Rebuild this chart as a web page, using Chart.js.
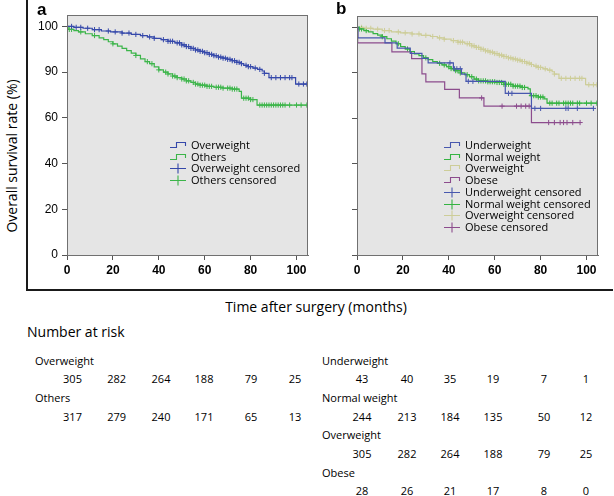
<!DOCTYPE html>
<html><head><meta charset="utf-8">
<script src="https://cdn.jsdelivr.net/npm/chart.js@4.4.0/dist/chart.umd.min.js"></script>
<style>
html,body{margin:0;padding:0;background:#fff;}
body{width:614px;height:496px;overflow:hidden;position:relative;font-family:"Open Sans",sans-serif;color:#000;}
.abs{position:absolute;white-space:nowrap;}
canvas{position:absolute;}
</style></head><body>
<canvas id="ca" width="285" height="290" style="left:28px;top:0px;"></canvas>
<canvas id="cb" width="292" height="290" style="left:313px;top:0px;"></canvas>
<script>
// ---------------- DATA ----------------
const yTickValues = [0, 20, 40, 60, 80, 100];
const yTickLabels = ['0', '20', '40', '60', '90', '100'];
const riskTimes = [0, 20, 40, 60, 80, 100];

// Panel a: Overweight (also panel b Overweight)
const owTimes = [0, 3, 7, 11, 15, 19, 24, 28, 32, 35, 38, 41, 44, 47, 50, 52, 54, 56, 58, 60, 62, 64, 66, 68, 70, 72, 74, 76, 77, 79, 81, 83, 85, 86, 88, 99.6];
const owSurv  = [100, 99.6, 99.2, 98.6, 98.0, 97.6, 97.1, 96.5, 96.0, 95.4, 94.8, 94.2, 93.5, 92.8, 91.9, 91.2, 90.4, 89.7, 89.1, 88.5, 87.8, 87.2, 86.6, 86.1, 85.6, 85.0, 84.3, 83.7, 83.0, 82.4, 81.8, 81.2, 80.5, 79.5, 77.6, 74.8];
const owCensor = [2, 4, 6, 9, 12, 14, 18, 21, 24, 27, 30, 33, 36, 38, 42, 44, 45, 46, 48, 49, 50, 51, 52, 53, 54, 55, 56, 57, 58, 59, 60, 61, 62, 63, 64, 65, 66, 67, 68, 69, 70, 71, 72, 73, 74, 75, 76, 78, 79, 80, 82, 84, 86, 89, 91, 93, 95, 97, 98, 101, 103, 104.5];

// Panel a: Others
const othTimes = [0, 0.5, 3, 5, 8, 11, 14, 16, 18, 20, 22, 24, 26, 28, 30, 32, 34, 36, 38, 40, 42, 44, 46, 48, 50, 52, 54, 56, 58, 61, 64, 68, 72, 75, 76, 80, 82.8];
const othSurv  = [100, 98.7, 98.2, 97.6, 96.8, 96.0, 95.0, 94.2, 93.3, 92.4, 91.4, 90.4, 89.4, 88.3, 87.3, 85.8, 84.6, 83.7, 82.3, 81.0, 80.0, 79.2, 78.3, 77.6, 77.0, 76.2, 75.5, 74.8, 74.3, 73.8, 73.4, 73.0, 72.6, 71.6, 68.6, 68.0, 65.6];
const othCensor = [1, 2, 6, 12, 20, 30, 35, 37, 40, 43, 44, 46, 47, 48, 50, 51, 52, 53, 55, 56, 57, 58, 59, 60, 61, 62, 63, 65, 66, 67, 68, 70, 71, 72, 73, 74, 77, 78, 79, 80, 81, 84, 85, 86, 87, 88, 89, 90, 91, 92, 93, 94, 95, 97, 100, 102, 104.5];

// Panel b: Underweight
const uwTimes = [0, 0.4, 12.2, 17.5, 23.2, 28.3, 31, 42, 45.5, 47.5, 64.6, 76];
const uwSurv  = [100, 95.4, 93.2, 90.9, 88.6, 86.4, 84.4, 81.8, 79.5, 76.3, 71.0, 64.4];
const uwCensor = [40.5, 42.5, 43.5, 45, 48.5, 50.5, 66, 67.5, 77.5, 80, 91, 92, 96, 103];

// Panel b: Normal weight
const nwTimes = [0, 1, 3, 5, 7, 9, 11, 13, 15, 17, 19, 21, 23, 25, 27, 29, 31, 33, 35, 37, 39, 41, 43, 45, 47, 49, 51, 53, 57, 61, 64, 68, 72, 74.5, 75.5, 79, 81.5, 82.8];
const nwSurv  = [100, 99.3, 98.6, 98.0, 97.3, 96.6, 95.9, 95.0, 94.0, 92.8, 91.6, 90.5, 89.4, 88.4, 87.6, 86.6, 85.8, 85.0, 84.2, 83.5, 82.7, 81.9, 81.0, 80.0, 79.2, 78.3, 77.3, 76.5, 76.1, 75.8, 75.0, 74.2, 73.6, 73.0, 70.0, 69.4, 68.6, 66.7];
const nwCensor = [1, 2, 4, 11, 18, 22, 30, 36, 38, 40, 41, 42, 43, 44, 45, 48, 50, 52, 53, 54, 55, 56, 57, 58, 59, 60, 61, 62, 63, 64, 65, 66, 67, 68, 69, 70, 71, 72, 73, 76, 77, 78, 79, 80, 81, 84, 85, 87, 88, 90, 91, 92, 93, 94, 96, 97, 100, 102, 104.5];

// Panel b: Obese
const obTimes = [0, 0.3, 15.2, 23.8, 28.3, 30, 38.2, 44.6, 55.3, 76];
const obSurv  = [100, 93.2, 89.2, 86.3, 79.6, 76.1, 72.8, 69.0, 65.4, 58.2];
const obCensor = [54.3, 63.2, 69.5, 71.5, 73.5, 75, 83.5, 86, 88.5, 90, 91.5, 94, 97.2];

// Numbers at risk
const riskOverweight = [305, 282, 264, 188, 79, 25];
const riskOthers = [317, 279, 240, 171, 65, 13];
const riskUnderweight = [43, 40, 35, 19, 7, 1];
const riskNormal = [244, 213, 184, 135, 50, 12];
const riskObese = [28, 26, 21, 17, 8, 0];

// ---------------- STYLE ----------------
const C = {
  blueA: '#3548aa', greenA: '#3cb54a',
  uw: '#4858ae', nw: '#35b342', ow: '#cdcd98', ob: '#8c4c8d'
};

function survAt(T, S, t) {
  let v = S[0];
  for (let i = 0; i < T.length; i++) { if (T[i] <= t) v = S[i]; }
  return v;
}
function curve(T, S, Cn, color, w) {
  const pts = T.map((t, i) => ({x: t, y: S[i]}));
  const end = Math.max(T[T.length - 1], ...Cn);
  pts.push({x: end, y: S[S.length - 1]});
  return {type: 'line', data: pts, stepped: true, borderColor: color, borderWidth: w || 1.2,
          pointRadius: 0, fill: false, tension: 0};
}
function cens(T, S, Cn, color) {
  return {type: 'line', data: Cn.map(t => ({x: t, y: survAt(T, S, t)})), showLine: false,
          pointStyle: 'cross', pointRadius: 2.6, pointBorderWidth: 1, borderColor: color,
          pointBorderColor: color, backgroundColor: color};
}

const bgPlugin = {
  id: 'bg',
  beforeDatasetsDraw(chart) {
    const a = chart.chartArea, ctx = chart.ctx;
    ctx.save(); ctx.fillStyle = '#e5e5e5';
    ctx.fillRect(a.left, a.top, a.right - a.left, a.bottom - a.top); ctx.restore();
  },
  afterDraw(chart) {
    const a = chart.chartArea, ctx = chart.ctx;
    ctx.save(); ctx.strokeStyle = '#707070'; ctx.lineWidth = 1;
    ctx.strokeRect(Math.round(a.left) + 0.5, Math.round(a.top) + 0.5, Math.round(a.right - a.left) - 1, Math.round(a.bottom - a.top));
    ctx.restore();
  }
};

function makeChart(id, datasets, yw, showY, padTop, padRight) {
  return new Chart(document.getElementById(id), {
    data: {datasets},
    plugins: [bgPlugin],
    options: {
      responsive: false, animation: false, events: [],
      layout: {padding: {top: padTop, right: padRight, bottom: 5, left: 0}},
      plugins: {legend: {display: false}, tooltip: {enabled: false}},
      scales: {
        x: {type: 'linear', min: 0, max: 105,
            ticks: {stepSize: 20, includeBounds: false, color: '#000', padding: 3,
                    font: {family: 'Liberation Sans', size: 12, weight: 'bold'}},
            grid: {drawOnChartArea: false, drawTicks: true, tickLength: 5, color: '#555'},
            border: {color: '#707070'},
            afterFit: s => { s.height = 30; }},
        y: {type: 'linear', min: 0, max: 105,
            afterBuildTicks: s => { s.ticks = yTickValues.map(v => ({value: v})); },
            ticks: {color: '#000', padding: 4, font: {family: 'Liberation Sans', size: 12},
                    callback: v => showY ? yTickLabels[yTickValues.indexOf(v)] : ''},
            grid: {drawOnChartArea: false, drawTicks: true, tickLength: 5, color: '#555'},
            border: {color: '#707070'},
            afterFit: s => { s.width = yw; }}
      }
    }
  });
}

makeChart('ca', [
  curve(owTimes, owSurv, owCensor, C.blueA),
  curve(othTimes, othSurv, othCensor, C.greenA),
  cens(owTimes, owSurv, owCensor, C.blueA),
  cens(othTimes, othSurv, othCensor, C.greenA)
], 39, true, 15, 5);

makeChart('cb', [
  curve(uwTimes, uwSurv, uwCensor, C.uw),
  curve(nwTimes, nwSurv, nwCensor, C.nw),
  curve(owTimes, owSurv, owCensor, C.ow),
  curve(obTimes, obSurv, obCensor, C.ob),
  cens(uwTimes, uwSurv, uwCensor, C.uw),
  cens(nwTimes, nwSurv, nwCensor, C.nw),
  cens(owTimes, owSurv, owCensor, C.ow),
  cens(obTimes, obSurv, obCensor, C.ob)
], 44, false, 16, 7);

// ---------------- TEXT / LEGENDS ----------------
function txt(s, x, y, font, center, rot) {
  const d = document.createElement('div');
  d.className = 'abs'; d.textContent = s; d.style.font = font;
  d.style.lineHeight = '16px'; d.style.left = x + 'px'; d.style.top = (y - 8) + 'px';
  if (rot) { d.style.transform = 'translate(-50%,0) rotate(-90deg)'; d.style.transformOrigin = '50% 50%'; }
  else if (center) d.style.transform = 'translateX(-50%)';
  document.body.appendChild(d); return d;
}
function line(x, y, w, h, c) {
  const d = document.createElement('div'); d.className = 'abs';
  Object.assign(d.style, {left: x + 'px', top: y + 'px', width: w + 'px', height: h + 'px', background: c});
  document.body.appendChild(d);
}
const NS = 'http://www.w3.org/2000/svg';
function icon(kind, x, y, color) {
  const s = document.createElementNS(NS, 'svg');
  s.setAttribute('width', '18'); s.setAttribute('height', '12');
  s.style.position = 'absolute'; s.style.left = x + 'px'; s.style.top = (y - 6) + 'px';
  const p = document.createElementNS(NS, 'path');
  p.setAttribute('d', kind === 'step' ? 'M0 8.5 H6.5 V3.5 H15.5 V7' : 'M0 6.5 H16 M8 1.5 V11.5');
  p.setAttribute('stroke', color); p.setAttribute('fill', 'none'); p.setAttribute('stroke-width', '1.1');
  s.appendChild(p); document.body.appendChild(s);
}

const legendA = [['Overweight', 'step', C.blueA], ['Others', 'step', C.greenA],
                 ['Overweight censored', 'cross', C.blueA], ['Others censored', 'cross', C.greenA]];
const legendB = [['Underweight', 'step', C.uw], ['Normal weight', 'step', C.nw], ['Overweight', 'step', C.ow], ['Obese', 'step', C.ob],
                 ['Underweight censored', 'cross', C.uw], ['Normal weight censored', 'cross', C.nw],
                 ['Overweight censored', 'cross', C.ow], ['Obese censored', 'cross', C.ob]];
const LF = '11px "Open Sans"';
legendA.forEach((e, i) => { const y = 145 + i * 11.7; icon(e[1], 170, y, e[2]); txt(e[0], 191, y, LF); });
legendB.forEach((e, i) => { const y = 145 + i * 11.7; icon(e[1], 444, y, e[2]); txt(e[0], 465, y, LF); });

txt('a', 37, 10, 'bold 17px "Liberation Sans"');
txt('b', 336, 9, 'bold 17px "Liberation Sans"');

// frame
line(26, 0, 2, 291, '#1a1a1a');
line(26, 289, 587, 2, '#1a1a1a');

txt('Overall survival rate (%)', 12, 156, '14px "Open Sans"', false, true);
txt('Time after surgery (months)', 316, 307, '14px "Open Sans"', true);
txt('Number at risk', 27, 332, '14px "Open Sans"');

const RF = '11px "Open Sans"';
const colsA = [72.5, 116.7, 161, 204, 251, 295];
const colsB = [362, 407, 450, 493, 544, 586];
const rowsA = [['Overweight', riskOverweight], ['Others', riskOthers]];
const rowsB = [['Underweight', riskUnderweight], ['Normal weight', riskNormal], ['Overweight', riskOverweight], ['Obese', riskObese]];
rowsA.forEach((r, i) => {
  const y = 361 + i * 37.3;
  txt(r[0], 35, y, RF);
  r[1].forEach((v, j) => txt(String(v), colsA[j], y + 18.3, RF, true));
});
rowsB.forEach((r, i) => {
  const y = 361 + i * 37.2;
  txt(r[0], 322, y, RF);
  r[1].forEach((v, j) => txt(String(v), colsB[j], y + 18.3, RF, true));
});
</script>
</body></html>
